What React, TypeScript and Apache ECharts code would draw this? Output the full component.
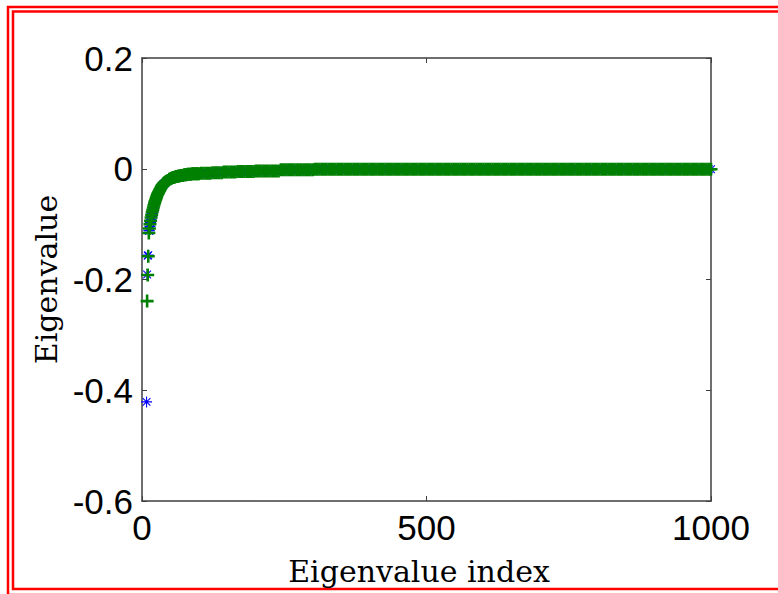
import React, { useEffect, useRef } from "react";
import * as echarts from "echarts";

// Axis ranges and tick spacing
const xRange = [0, 1000];
const xInterval = 500;
const yRange = [-0.6, 0.2];
const yInterval = 0.2;

// Leading eigenvalues (index, value) for each of the two spectra
const starLowIndex = [8, 9, 10, 11, 12];
const starLowValue = [-0.421, -0.191, -0.157, -0.156, -0.112];
const plusLowIndex = [9, 10, 11, 12];
const plusLowValue = [-0.239, -0.192, -0.158, -0.116];

// Steep part of the spectrum, shared sampling for both spectra
const headIndex = [
  13, 14, 15, 16, 17, 18, 19, 20, 21, 22, 23, 24, 25, 26, 27, 28, 29, 30, 31, 32,
  33, 34, 35, 36, 37, 38, 39, 40, 42, 44, 46, 48, 50, 52, 54, 56, 58, 60, 62, 64,
  66, 68, 70, 72, 74, 76, 78, 80, 82, 84, 86, 88, 90, 92, 94, 96, 98, 100,
];
const headStarValue = [
  -0.112, -0.104, -0.097, -0.091, -0.086, -0.081, -0.077, -0.073, -0.069, -0.065,
  -0.061, -0.058, -0.055, -0.052, -0.049, -0.047, -0.045, -0.042, -0.040, -0.038,
  -0.036, -0.034, -0.032, -0.031, -0.029, -0.028, -0.027, -0.026, -0.024, -0.022,
  -0.021, -0.019, -0.018, -0.017, -0.016, -0.016, -0.015, -0.014, -0.014, -0.013,
  -0.013, -0.012, -0.012, -0.012, -0.011, -0.011, -0.011, -0.010, -0.010, -0.010,
  -0.010, -0.009, -0.009, -0.009, -0.009, -0.009, -0.009, -0.009,
];
const headPlusValue = [
  -0.108, -0.100, -0.094, -0.088, -0.083, -0.078, -0.074, -0.070, -0.066, -0.062,
  -0.059, -0.056, -0.053, -0.050, -0.047, -0.045, -0.043, -0.041, -0.039, -0.037,
  -0.035, -0.033, -0.031, -0.030, -0.028, -0.027, -0.026, -0.025, -0.023, -0.022,
  -0.021, -0.019, -0.018, -0.017, -0.016, -0.016, -0.015, -0.014, -0.014, -0.013,
  -0.013, -0.012, -0.012, -0.012, -0.011, -0.011, -0.011, -0.010, -0.010, -0.010,
  -0.010, -0.009, -0.009, -0.009, -0.009, -0.009, -0.009, -0.009,
];

// Flat tail: every 4th eigenvalue from index 104 to 1000
const tailStart = 104;
const tailStep = 4;
const tailValue = [
  -0.008, -0.008, -0.008, -0.008, -0.008, -0.007, -0.007, -0.007, -0.007, -0.007,
  -0.006, -0.006, -0.006, -0.006, -0.006, -0.006, -0.005, -0.005, -0.005, -0.005,
  -0.005, -0.005, -0.005, -0.005, -0.004,
  -0.004, -0.004, -0.004, -0.004, -0.004, -0.004, -0.004, -0.004, -0.004, -0.004,
  -0.002, -0.002, -0.002, -0.002, -0.002, -0.002, -0.002, -0.002, -0.002, -0.002,
  -0.002, -0.002, -0.002, -0.002, -0.002,
  -0.001, -0.001, -0.001, -0.001, -0.001, -0.001, -0.001, -0.001, -0.001, -0.001,
  -0.001, -0.001, -0.001, -0.001, -0.001, -0.001, -0.001, -0.001, -0.001, -0.001,
  -0.001, -0.001, -0.001, -0.001, -0.001,
  -0.001, -0.001, -0.001, -0.001, -0.001, -0.001, -0.001, -0.001, -0.001, -0.001,
  -0.001, -0.001, -0.001, -0.001, -0.001, -0.001, -0.001, -0.001, -0.001, -0.001,
  -0.001, -0.001, -0.001, -0.001, -0.001,
  -0.001, -0.001, -0.001, -0.001, -0.001, -0.001, -0.001, -0.001, -0.001, -0.001,
  -0.001, -0.001, -0.001, -0.001, -0.001, -0.001, -0.001, -0.001, -0.001, -0.001,
  -0.001, -0.001, -0.001, -0.001, -0.001,
  -0.001, -0.001, -0.001, -0.001, -0.001, -0.001, -0.001, -0.001, -0.001, -0.001,
  -0.001, -0.001, -0.001, -0.001, -0.001, -0.001, -0.001, -0.001, -0.001, -0.001,
  -0.001, -0.001, -0.001, -0.001, -0.001,
  -0.001, -0.001, -0.001, -0.001, -0.001, -0.001, -0.001, -0.001, -0.001, -0.001,
  -0.001, -0.001, -0.001, -0.001, -0.001, -0.001, -0.001, -0.001, -0.001, -0.001,
  -0.001, -0.001, -0.001, -0.001, -0.001,
  -0.001, -0.001, -0.001, -0.001, -0.001, -0.001, -0.001, -0.001, -0.001, -0.001,
  -0.001, -0.001, -0.001, -0.001, -0.001, -0.001, -0.001, -0.001, -0.001, -0.001,
  -0.001, -0.001, -0.001, -0.001, -0.001,
  -0.001, -0.001, -0.001, -0.001, -0.001, -0.001, -0.001, -0.001, -0.001, -0.001,
  -0.001, -0.001, -0.001, -0.001, -0.001, -0.001, -0.001, -0.001, -0.001, -0.001,
  -0.001, -0.001, -0.001, -0.001, -0.001,
];

// Marker shapes drawn as filled outlines in a 20x20 box
const PLUS_SYMBOL = "path://M8,0H12V8H20V12H12V20H8V12H0V8H8Z";
const STAR_SYMBOL =
  "path://M9,0H11V20H9Z M0,9H20V11H0Z M3.7,2.3L17.7,16.3L16.3,17.7L2.3,3.7Z M16.3,2.3L17.7,3.7L3.7,17.7L2.3,16.3Z";

const AXIS_COLOR = "#3f3f3f";

function pairs(index: number[], value: number[]): number[][] {
  return index.map((x, i) => [x, value[i]]);
}

function tailPairs(): number[][] {
  return tailValue.map((v, i) => [tailStart + i * tailStep, v]);
}

const plainNumber = (v: number) => String(Math.round(v * 1000) / 1000);

export default function App() {
  const ref = useRef<HTMLDivElement>(null);

  useEffect(() => {
    if (!ref.current) return;
    const chart = echarts.init(ref.current, null, { renderer: "svg" });

    const starData = [
      ...pairs(starLowIndex, starLowValue),
      ...pairs(headIndex, headStarValue),
      ...tailPairs(),
    ];
    const plusData = [
      ...pairs(plusLowIndex, plusLowValue),
      ...pairs(headIndex, headPlusValue),
      ...tailPairs(),
    ];

    const tickLabel = {
      fontFamily: "Liberation Sans",
      fontSize: 35,
      color: "#000",
      formatter: plainNumber,
    };
    const lineStyle = { color: AXIS_COLOR, width: 1.5 };
    const tickStyle = { color: AXIS_COLOR, width: 1 };
    const titleStyle = { fontFamily: "DejaVu Serif", fontSize: 30, color: "#000" };

    chart.setOption({
      animation: false,
      backgroundColor: "#ffffff",
      grid: { left: 142, top: 58, width: 569, height: 443 },
      graphic: [
        {
          type: "rect",
          silent: true,
          shape: { x: 8, y: 7, width: 800, height: 588 },
          style: { fill: "none", stroke: "#ff0000", lineWidth: 2.5 },
        },
        {
          type: "rect",
          silent: true,
          shape: { x: 13, y: 11.5, width: 800, height: 577.5 },
          style: { fill: "none", stroke: "#ff0000", lineWidth: 2.5 },
        },
      ],
      xAxis: [
        {
          type: "value",
          min: xRange[0],
          max: xRange[1],
          interval: xInterval,
          position: "bottom",
          name: "Eigenvalue index",
          nameLocation: "middle",
          nameGap: 55,
          nameTextStyle: { ...titleStyle, padding: [0, 15, 0, 0] },
          axisLine: { show: true, onZero: false, lineStyle },
          axisTick: { show: true, inside: true, length: 5, lineStyle: tickStyle },
          axisLabel: { ...tickLabel, margin: 9 },
          splitLine: { show: false },
        },
        {
          type: "value",
          min: xRange[0],
          max: xRange[1],
          interval: xInterval,
          position: "top",
          axisLine: { show: true, onZero: false, lineStyle },
          axisTick: { show: true, inside: true, length: 5, lineStyle: tickStyle },
          axisLabel: { show: false },
          splitLine: { show: false },
        },
      ],
      yAxis: [
        {
          type: "value",
          min: yRange[0],
          max: yRange[1],
          interval: yInterval,
          position: "left",
          name: "Eigenvalue",
          nameLocation: "middle",
          nameGap: 76,
          nameTextStyle: titleStyle,
          axisLine: { show: true, onZero: false, lineStyle },
          axisTick: { show: true, inside: true, length: 5, lineStyle: tickStyle },
          axisLabel: { ...tickLabel, margin: 9 },
          splitLine: { show: false },
        },
        {
          type: "value",
          min: yRange[0],
          max: yRange[1],
          interval: yInterval,
          position: "right",
          axisLine: { show: true, onZero: false, lineStyle },
          axisTick: { show: true, inside: true, length: 5, lineStyle: tickStyle },
          axisLabel: { show: false },
          splitLine: { show: false },
        },
      ],
      series: [
        {
          name: "star",
          type: "scatter",
          xAxisIndex: 0,
          yAxisIndex: 0,
          symbol: STAR_SYMBOL,
          symbolSize: 11,
          itemStyle: { color: "#0000ff", opacity: 1 },
          clip: false,
          data: starData,
        },
        {
          name: "plus",
          type: "scatter",
          xAxisIndex: 0,
          yAxisIndex: 0,
          symbol: PLUS_SYMBOL,
          symbolSize: 13,
          itemStyle: { color: "#008000", opacity: 1 },
          clip: false,
          data: plusData,
        },
      ],
    });

    return () => chart.dispose();
  }, []);

  return (
    <div
      ref={ref}
      style={{ position: "absolute", left: 0, top: 0, width: 778, height: 594, background: "#fff" }}
    />
  );
}
